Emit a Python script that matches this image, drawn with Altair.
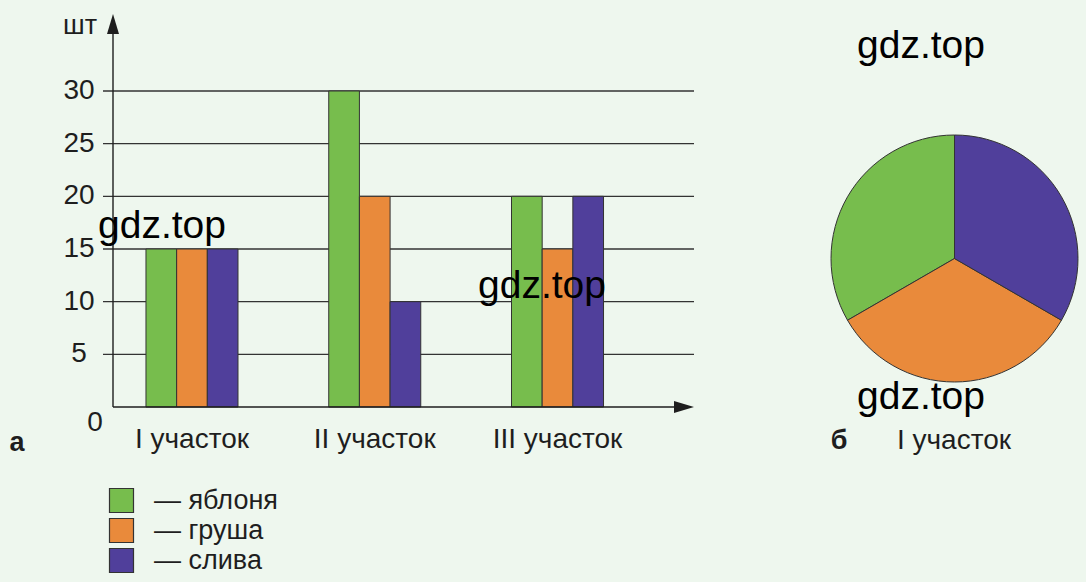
import altair as alt
import pandas as pd

# ---- data ----
groups = ["I участок", "II участок", "III участок"]
fruits = ["яблоня", "груша", "слива"]
apple = [15, 30, 20]
pear = [15, 20, 15]
plum = [15, 10, 20]
y_ticks = [5, 10, 15, 20, 25, 30]
colors = ["#77bd4d", "#e98a3b", "#503f9b"]

FONT = "Liberation Sans"
INK = "#1e1e1e"

rows = []
for i, (f, vals) in enumerate(zip(fruits, [apple, pear, plum])):
    for g, v in zip(groups, vals):
        rows.append({"group": g, "fruit": f, "value": v, "fidx": i})
df = pd.DataFrame(rows)
df["pie_order"] = 2 - df["fidx"]
df_pie = df[df["group"] == groups[0]]
ticks_df = pd.DataFrame({"tick": y_ticks})
one = pd.DataFrame({"a": [0]})

xscale = alt.Scale(domain=groups, range=[100.6, 648.9], paddingInner=0.4966, paddingOuter=0.2483)
yscale = alt.Scale(domain=[0, 30], range=[407, 91], nice=False, zero=False)
color = alt.Color(
    "fruit:N",
    scale=alt.Scale(domain=fruits, range=colors),
    legend=alt.Legend(
        orient="none", legendX=108, legendY=487, title=None,
        symbolType="square", symbolSize=576, symbolStrokeColor="#333333",
        symbolStrokeWidth=1.2, symbolOpacity=1,
        labelFontSize=27, labelFont=FONT, labelColor=INK, labelOffset=19,
        rowPadding=1, labelExpr="'—  ' + datum.label", padding=0,
    ),
)

grid = alt.Chart(ticks_df).mark_rule(color="#333333", strokeWidth=1.3).encode(
    y=alt.Y("tick:Q", scale=yscale, axis=None),
    x=alt.value(103), x2=alt.value(694),
)

tick_labels = alt.Chart(ticks_df).mark_text(
    font=FONT, fontSize=28, color=INK, align="center", baseline="middle"
).encode(
    y=alt.Y("tick:Q", scale=yscale, axis=None),
    x=alt.value(79),
    text="tick:Q",
)

bars = alt.Chart(df).mark_bar(stroke="#333333", strokeWidth=1).encode(
    x=alt.X("group:N", scale=xscale, axis=None),
    xOffset=alt.XOffset("fruit:N", scale=alt.Scale(domain=fruits, paddingInner=0, paddingOuter=0)),
    y=alt.Y("value:Q", scale=yscale, axis=None),
    color=color,
)

group_labels = alt.Chart(pd.DataFrame({"group": groups})).mark_text(
    font=FONT, fontSize=28, color=INK, align="center", baseline="middle"
).encode(
    x=alt.X("group:N", scale=xscale, axis=None),
    y=alt.value(440),
    text="group:N",
)

y_axis = alt.Chart(one).mark_rule(color=INK, strokeWidth=1.4).encode(
    x=alt.value(113), y=alt.value(30), y2=alt.value(407)
)
x_axis = alt.Chart(one).mark_rule(color=INK, strokeWidth=1.4).encode(
    x=alt.value(113), x2=alt.value(677), y=alt.value(407)
)
y_arrow = alt.Chart(one).mark_point(
    shape="M0,-1L0.6,1L-0.6,1Z", filled=True, size=400, color=INK, opacity=1
).encode(x=alt.value(113), y=alt.value(24))
x_arrow = alt.Chart(one).mark_point(
    shape="M1,0L-1,0.6L-1,-0.6Z", filled=True, size=400, color=INK, opacity=1
).encode(x=alt.value(684), y=alt.value(407))

pie = alt.Chart(df_pie).mark_arc(radius=123.5, stroke="#333333", strokeWidth=1).encode(
    theta=alt.Theta("value:Q", stack=True),
    color=color,
    order=alt.Order("pie_order:Q"),
    x=alt.value(954.5),
    y=alt.value(258.5),
)


def label(text, x, y, size=28, weight="normal", align="center", color=INK):
    return alt.Chart(one).mark_text(
        text=text, font=FONT, fontSize=size, fontWeight=weight,
        align=align, baseline="middle", color=color,
    ).encode(x=alt.value(x), y=alt.value(y))


texts = [
    label("шт", 80, 26, size=27),
    label("0", 95, 423),
    label("а", 17, 443, weight="bold", size=27),
    label("б", 839, 441, weight="bold", size=27),
    label("I участок", 954, 441),
    label("gdz.top", 162, 226, size=39, color="#000000"),
    label("gdz.top", 542, 286, size=39, color="#000000"),
    label("gdz.top", 921, 46, size=39, color="#000000"),
    label("gdz.top", 921, 397, size=39, color="#000000"),
]

chart = alt.layer(
    grid, bars, y_axis, x_axis, y_arrow, x_arrow, tick_labels, group_labels, pie, *texts
).properties(
    width=1086, height=582, background="#eef7ee", padding=0,
    autosize=alt.AutoSizeParams(type="none"),
).configure_view(stroke=None)

chart.save("out.html", embed_options={"renderer": "svg", "actions": False})
